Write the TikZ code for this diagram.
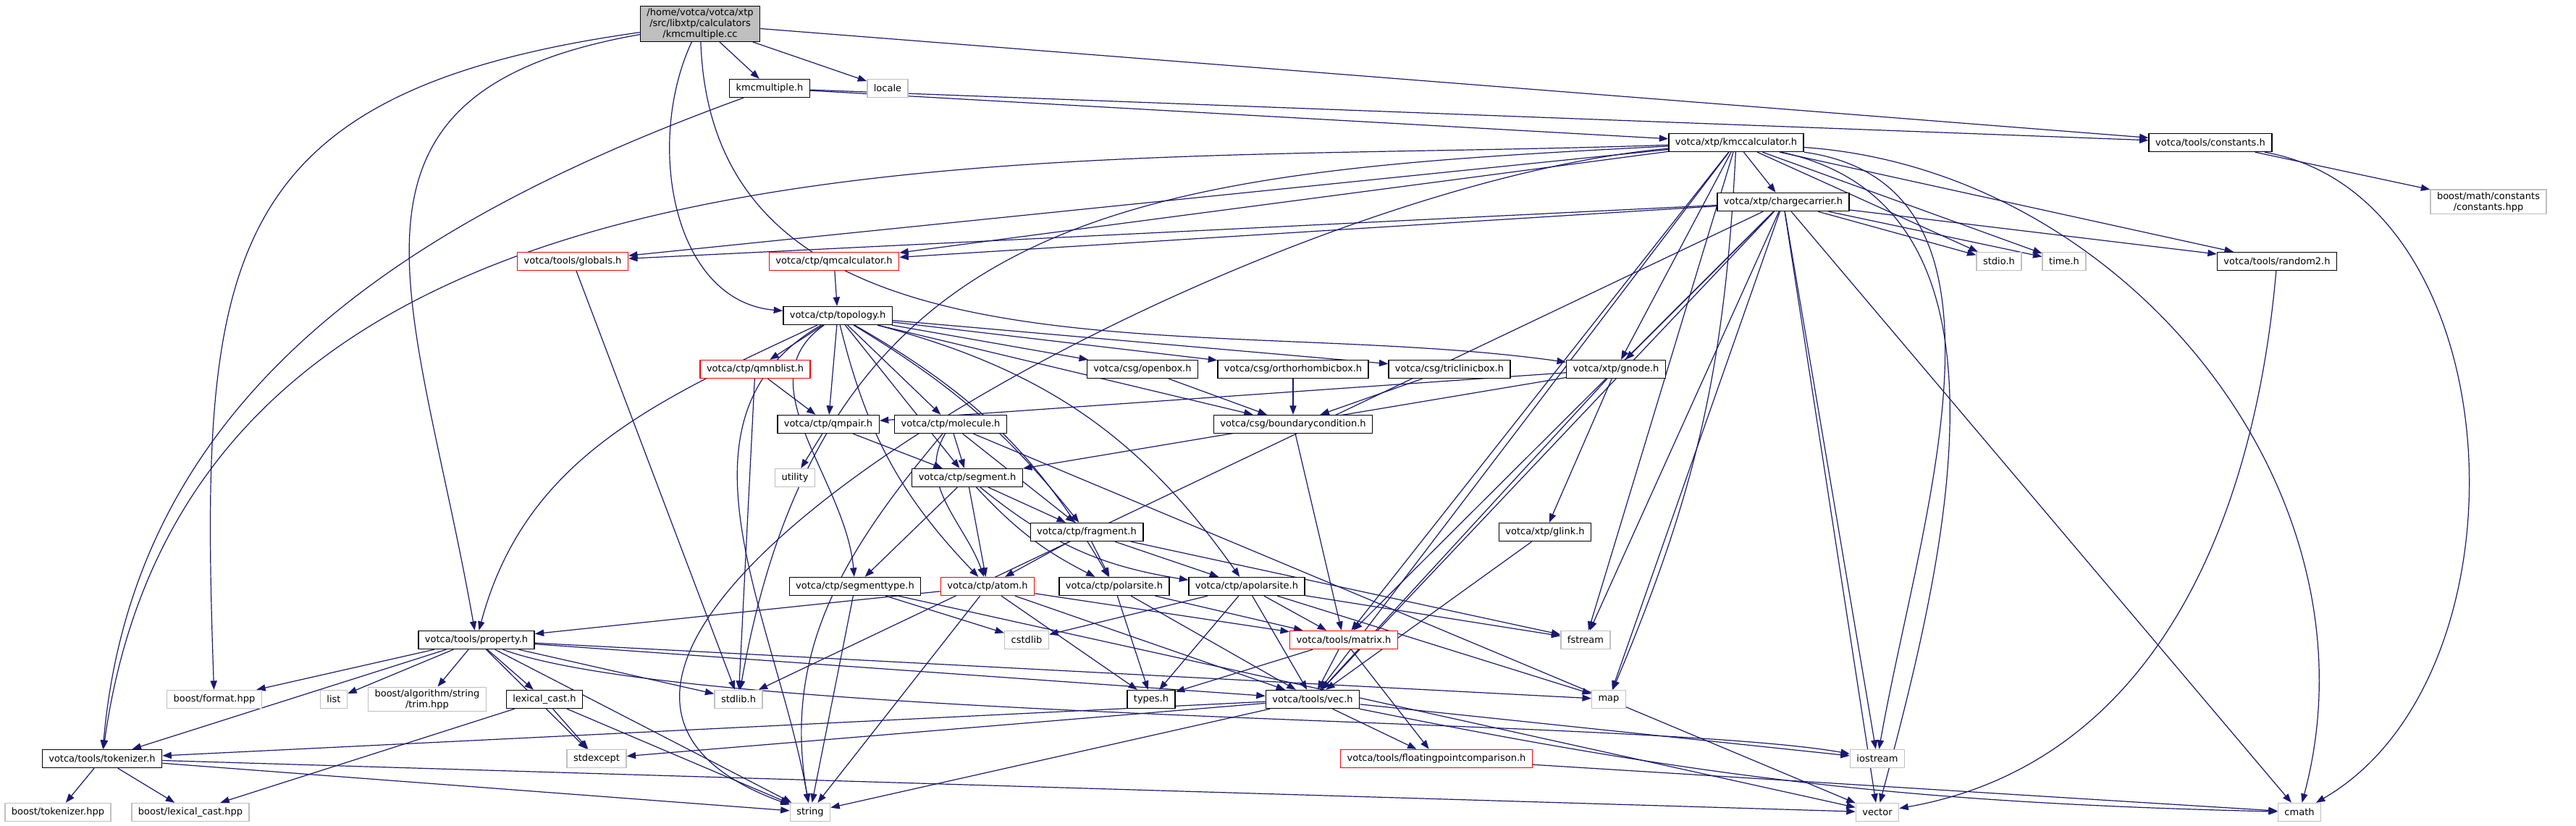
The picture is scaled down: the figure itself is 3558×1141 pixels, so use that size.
\documentclass[tikz,border=0pt]{standalone}
\usepackage{fontspec}
\setmainfont{DejaVu Sans}
\usepackage{xcolor}
\usetikzlibrary{arrows.meta,backgrounds}
\definecolor{edgeblue}{HTML}{191970}
\definecolor{sysgray}{HTML}{BFBFBF}

\begin{document}
\begin{tikzpicture}[
  x=0.25pt,y=0.25pt,
  file/.style={draw=black,line width=0.35pt,fill=white,inner xsep=2.25pt,inner ysep=0.75pt,
    minimum height=6.25pt,font=\fontsize{3.25}{3.75}\selectfont,align=center},
  sysfile/.style={file,draw=sysgray},
  redfile/.style={file,draw=red},
  rootfile/.style={file,fill=sysgray},
  every edge/.style={draw=edgeblue,line width=0.3pt,-{Triangle[length=3.1pt,width=2.3pt]}}
]
\useasboundingbox (0,0) rectangle (3558,-1141);

% top rows
\node[rootfile] (cc) at (967,-33) {/home/votca/votca/xtp\\/src/libxtp/calculators\\/kmcmultiple.cc};
\node[file] (kmch) at (1063,-122) {kmcmultiple.h};
\node[sysfile] (locale) at (1226,-122) {locale};
\node[file] (kmcc) at (2398,-197) {votca/xtp/kmccalculator.h};
\node[file] (const) at (3053,-197) {votca/tools/constants.h};
\node[sysfile] (bconst) at (3437,-279) {boost/math/constants\\/constants.hpp};
\node[file] (chc) at (2463,-279) {votca/xtp/chargecarrier.h};
\node[redfile] (glob) at (791,-361) {votca/tools/globals.h};
\node[redfile] (qmcalc) at (1152,-361) {votca/ctp/qmcalculator.h};
\node[sysfile] (stdio) at (2761,-361) {stdio.h};
\node[sysfile] (timeh) at (2851,-361) {time.h};
\node[file] (rand) at (3145,-361) {votca/tools/random2.h};

% topology level
\node[file] (topo) at (1157,-436) {votca/ctp/topology.h};
\node[redfile] (qmnb) at (1043,-510) {votca/ctp/qmnblist.h};
\node[file] (obox) at (1578,-510) {votca/csg/openbox.h};
\node[file] (ortho) at (1786,-510) {votca/csg/orthorhombicbox.h};
\node[file] (tricl) at (2002,-510) {votca/csg/triclinicbox.h};
\node[file] (gnode) at (2232,-510) {votca/xtp/gnode.h};
\node[file] (qmpair) at (1144,-586) {votca/ctp/qmpair.h};
\node[file] (molec) at (1313,-586) {votca/ctp/molecule.h};
\node[file] (bcond) at (1786,-586) {votca/csg/boundarycondition.h};
\node[sysfile] (util) at (1098,-660) {utility};
\node[file] (segm) at (1336,-660) {votca/ctp/segment.h};
\node[file] (glink) at (2134,-735) {votca/xtp/glink.h};
\node[file] (frag) at (1501,-735) {votca/ctp/fragment.h};
\node[file] (segt) at (1181,-810) {votca/ctp/segmenttype.h};
\node[redfile] (atom) at (1364,-810) {votca/ctp/atom.h};
\node[file] (polar) at (1539,-810) {votca/ctp/polarsite.h};
\node[file] (apolar) at (1722,-810) {votca/ctp/apolarsite.h};

% tools level
\node[file] (prop) at (658,-884) {votca/tools/property.h};
\node[sysfile] (cstdlib) at (1418,-884) {cstdlib};
\node[redfile] (matrix) at (1856,-884) {votca/tools/matrix.h};
\node[sysfile] (fstream) at (2190,-884) {fstream};
\node[sysfile] (bformat) at (296,-966) {boost/format.hpp};
\node[sysfile] (list) at (461,-966) {list};
\node[sysfile] (trim) at (590,-966) {boost/algorithm/string\\/trim.hpp};
\node[file] (lexc) at (752,-966) {lexical\_cast.h};
\node[sysfile] (stdlib) at (1020,-966) {stdlib.h};
\node[file] (types) at (1590,-966) {types.h};
\node[file] (vec) at (1813,-966) {votca/tools/vec.h};
\node[sysfile] (map) at (2222,-966) {map};
\node[file] (tok) at (141,-1048) {votca/tools/tokenizer.h};
\node[sysfile] (stdexc) at (824,-1048) {stdexcept};
\node[redfile] (fpc) at (1984,-1048) {votca/tools/floatingpointcomparison.h};
\node[sysfile] (iostream) at (2593,-1048) {iostream};
\node[sysfile] (btok) at (80,-1122) {boost/tokenizer.hpp};
\node[sysfile] (blexc) at (263,-1122) {boost/lexical\_cast.hpp};
\node[sysfile] (string) at (1119,-1122) {string};
\node[sysfile] (vector) at (2593,-1122) {vector};
\node[sysfile] (cmath) at (3176,-1122) {cmath};

\begin{scope}[on background layer]
\fill[white] (0,0) rectangle (3558,-1141);
% includes of the source file
\draw (cc) edge (kmch) edge (locale) edge (const)
  edge[out=188,in=92,looseness=1.4] (bformat)
  edge[out=190,in=100,looseness=1.4] (prop)
  edge[out=245,in=175] (topo)
  edge[out=272,in=172] (gnode);
\draw (kmch) edge (kmcc) edge (const) edge[out=200,in=85] (tok);
% calculator headers
\draw (kmcc) edge (chc) edge (stdio) edge (timeh) edge (rand)
  edge (glob) edge (qmcalc) edge (gnode) edge (matrix) edge (vec)
  edge[bend left=10] (map) edge (fstream)
  edge[out=182,in=82] (tok)
  edge[out=183,in=80,looseness=1.2] (stdlib)
  edge[out=185,in=160] (string)
  edge[out=-8,in=80] (iostream)
  edge[out=-12,in=75] (vector)
  edge[out=-4,in=75] (cmath);
\draw (chc) edge (glob) edge (qmcalc) edge (gnode) edge (stdio)
  edge (timeh) edge (rand) edge (matrix) edge (vec) edge (map)
  edge (fstream) edge (iostream) edge (vector) edge (cmath)
  edge (stdlib);
\draw (const) edge (bconst) edge[out=-10,in=30] (cmath);
\draw (glob) edge (stdlib);
\draw (qmcalc) edge (topo);
\draw (rand) edge[out=-95,in=10] (vector);
% ctp headers
\draw (topo) edge (qmnb) edge (qmpair) edge (obox) edge (ortho)
  edge (tricl) edge (bcond) edge (molec) edge (segm)
  edge[bend left=10] (frag)
  edge[bend right=15] (atom)
  edge[bend left=15] (polar)
  edge[bend left=20] (apolar)
  edge[out=215,in=95] (segt)
  edge[out=205,in=75] (prop)
  edge[out=210,in=100] (string);
\draw (qmnb) edge (qmpair) edge (stdlib);
\draw (qmpair) edge (util) edge (segm);
\draw (obox) edge (bcond);
\draw (ortho) edge (bcond);
\draw (tricl) edge (bcond);
\draw (bcond) edge (matrix);
\draw (gnode) edge (qmpair) edge (segm) edge (glink) edge (vec);
\draw (molec) edge (segm) edge (frag) edge[out=240,in=110] (atom)
  edge[out=230,in=100] (string) edge (vector);
\draw (segm) edge (segt) edge (atom) edge (frag)
  edge[bend right=10] (polar) edge[bend right=15] (apolar);
\draw (frag) edge (atom) edge (polar) edge (apolar) edge (fstream);
\draw (segt) edge (string) edge (cstdlib) edge (vector);
\draw (atom) edge (prop) edge (string) edge (types) edge (vec) edge (matrix);
\draw (polar) edge (types) edge (vec) edge (matrix);
\draw (apolar) edge (cstdlib) edge (types) edge (vec) edge (matrix) edge (fstream) edge (map);
\draw (glink) edge (vec);
% tools headers
\draw (prop) edge (bformat) edge (list) edge (trim) edge (lexc) edge (stdlib)
  edge (stdexc) edge (string) edge (tok) edge (map) edge (vec)
  edge[out=-20,in=170,looseness=0.4] (iostream);
\draw (lexc) edge (blexc) edge (stdexc) edge (string);
\draw (tok) edge (btok) edge (blexc) edge (string) edge (vector);
\draw (matrix) edge (types) edge (vec) edge (fpc);
\draw (vec) edge (tok) edge (stdexc) edge (string) edge (iostream) edge (fpc)
  edge[bend right=5] (cmath);
\draw (fpc) edge (cmath);
\end{scope}
\end{tikzpicture}
\end{document}
